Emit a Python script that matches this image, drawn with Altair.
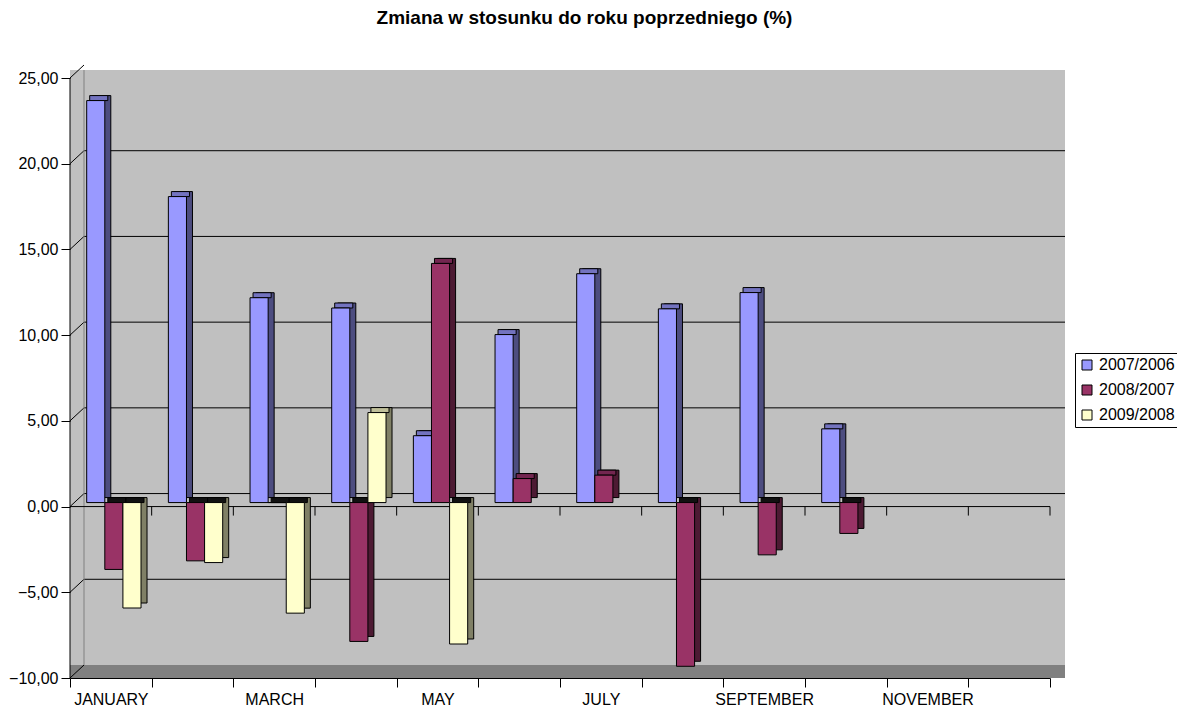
import altair as alt
import pandas as pd

months = ["JANUARY", "FEBRUARY", "MARCH", "APRIL", "MAY", "JUNE", "JULY",
          "AUGUST", "SEPTEMBER", "OCTOBER", "NOVEMBER", "DECEMBER"]
shown_labels = ["JANUARY", "MARCH", "MAY", "JULY", "SEPTEMBER", "NOVEMBER"]
series = ["2007/2006", "2008/2007", "2009/2008"]
v_0706 = [23.45, 17.85, 11.95, 11.35, 3.9, 9.8, 13.35, 11.3, 12.25, 4.3]
v_0807 = [-3.9, -3.4, 0.0, -8.1, 13.95, 1.4, 1.6, -9.55, -3.05, -1.8]
v_0908 = [-6.15, -3.5, -6.45, 5.25, -8.25]
y_ticks = [-10, -5, 0, 5, 10, 15, 20, 25]
grid_vals = [-5, 0, 5, 10, 15, 20]

front_colors = ["#9999FF", "#993366", "#FFFFCC"]
side_colors = ["#4D4D80", "#4D1A33", "#808066"]
top_colors = ["#7373BF", "#732650", "#BFBF99"]

FONT = "Liberation Sans, Arial"

rows = []
for si, vals in enumerate([v_0706, v_0807, v_0908]):
    for mi, v in enumerate(vals):
        rows.append({
            "month": months[mi], "series": series[si], "value": v, "zero": 0.0,
            "top": max(v, 0.0),
            "side": side_colors[si],
            "topc": top_colors[si] if v > 0 else "#111111",
        })
bars = pd.DataFrame(rows)

W, H = 995, 608
XR = 980
PPU = 600 / 35
yscale = alt.Scale(domain=[-10, 25 + 8 / PPU], nice=False, zero=False)
xscale = alt.Scale(domain=months, range=[0, XR], paddingInner=0, paddingOuter=0)

PO = 0.755
step = (XR / 12) / (3 + 2 * PO)
outer = 2 * PO * step
LEFT = 16.7  # left gap of front faces within a month band


def xo_scale(shift):
    return alt.Scale(domain=series, paddingInner=0, paddingOuter=PO,
                     align=min(1.0, (LEFT + shift) / outer))


yaxis = alt.Axis(title=None, values=y_ticks, domain=False, grid=False,
                 labelExpr="replace(format(datum.value, '.2f'), '.', ',')",
                 labelFontSize=16, labelFont=FONT, labelColor="black",
                 tickColor="black", tickSize=9, labelPadding=3)
xaxis = alt.Axis(title=None, labelAngle=0, tickBand="extent", tickSize=9,
                 labelExpr="indexof(" + str(shown_labels) + ", datum.label) >= 0 ? datum.label : ''",
                 labelFontSize=16, labelFont=FONT, labelColor="black",
                 tickColor="black", domainColor="black", labelPadding=4, grid=False)

X = alt.X("month:N", scale=xscale, sort=months, axis=xaxis)


def Y(f):
    return alt.Y(f, type="quantitative", scale=yscale, axis=yaxis)


grid_df = pd.DataFrame({"g": grid_vals})
tick_df = pd.DataFrame({"g": y_ticks})
floor_df = pd.DataFrame({"a": [-10.0], "b": [-10 + 13 / PPU]})
zero_df = pd.DataFrame({"z": [0.0], "top": [25.0], "bot": [-10.0]})
mdf = pd.DataFrame({"month": months, "z": [0.0] * 12})

floor = alt.Chart(floor_df).mark_rect(color="#808080").encode(
    x=alt.value(0), x2=alt.value(W), y=Y("a"), y2="b")

grid = alt.Chart(grid_df).mark_rule(color="black", strokeWidth=1, yOffset=-13).encode(
    x=alt.value(14), x2=alt.value(W), y=Y("g"))

connectors = alt.Chart(tick_df).mark_rule(color="black", strokeWidth=1, y2Offset=-13).encode(
    x=alt.value(0), x2=alt.value(14), y=Y("g"), y2="g")

wall_edge = alt.Chart(zero_df).mark_rule(color="#808080", strokeWidth=1).encode(
    x=alt.value(14), y=alt.value(0), y2=alt.value(H - 13))

left_axis = alt.Chart(zero_df).mark_rule(color="black", strokeWidth=1).encode(
    x=alt.value(0), y=Y("top"), y2="bot")

zero_line = alt.Chart(zero_df).mark_rule(color="black", strokeWidth=1).encode(
    x=alt.value(0), x2=alt.value(XR), y=Y("z"))

zero_ticks = alt.Chart(mdf).mark_rule(color="black", strokeWidth=1, y2Offset=9).encode(
    x=alt.X("month:N", scale=xscale, sort=months, axis=xaxis, bandPosition=1),
    y=Y("z"), y2="z")

base = alt.Chart(bars)
D = 6   # depth x
E = 5   # depth y
U = -4  # vertical shift (mid depth)

side = base.mark_bar(yOffset=U - E, y2Offset=U - E, stroke="black", strokeWidth=1).encode(
    x=X, xOffset=alt.XOffset("series:N", scale=xo_scale(D), sort=series),
    y=Y("value"), y2="zero", fill=alt.Fill("side:N", scale=None))

top = base.mark_bar(yOffset=U - E, y2Offset=U, stroke="black", strokeWidth=1).encode(
    x=X, xOffset=alt.XOffset("series:N", scale=xo_scale(D / 2), sort=series),
    y=Y("top"), y2="top", fill=alt.Fill("topc:N", scale=None))

front = base.mark_bar(yOffset=U, y2Offset=U, stroke="black", strokeWidth=1).encode(
    x=X, xOffset=alt.XOffset("series:N", scale=xo_scale(0), sort=series),
    y=Y("value"), y2="zero",
    fill=alt.Fill("series:N", sort=series,
                  scale=alt.Scale(domain=series, range=front_colors),
                  legend=alt.Legend(title=None)))

chart = alt.layer(floor, grid, connectors, wall_edge, zero_line, zero_ticks,
                  side, top, front, left_axis).resolve_scale(
    xOffset="independent", fill="independent"
).properties(
    width=W, height=H,
    title=alt.TitleParams("Zmiana w stosunku do roku poprzedniego (%)",
                          fontSize=19, fontWeight="bold", font=FONT,
                          anchor="middle", dx=17, offset=37, color="black"),
    autosize=alt.AutoSizeParams(type="none"),
    padding={"left": 62, "top": 62, "right": 112, "bottom": 30},
).configure_view(stroke=None, fill="#C0C0C0").configure_legend(
    orient="none", legendX=1005, legendY=283, strokeColor="black", fillColor="white",
    padding=4, symbolType="square", symbolSize=100, symbolStrokeColor="black",
    symbolStrokeWidth=1, labelFontSize=16, labelFont=FONT, labelColor="black",
    rowPadding=9, labelOffset=4, cornerRadius=0)

chart.save("out.html", embed_options={"renderer": "svg", "actions": False})
